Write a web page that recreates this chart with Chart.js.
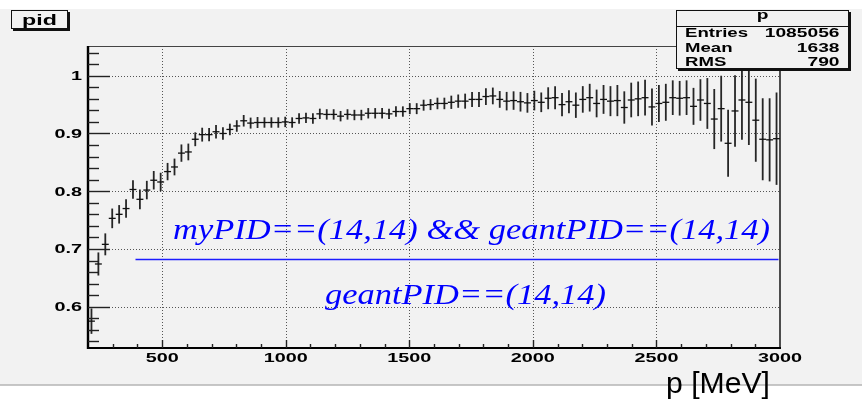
<!doctype html>
<html lang="en">
<head>
<meta charset="UTF-8">
<title>pid vs p</title>
<script src="https://cdn.jsdelivr.net/npm/chart.js"></script>
<style>
html,body{margin:0;padding:0;background:#fff;}
#wrap{width:862px;height:401px;}
canvas{display:block;}
</style>
</head>
<body>
<div id="wrap"><canvas id="chart" width="862" height="401"></canvas></div>

<script>
/* ---------- histogram "p" : 100 bins from 200 to 3000 MeV ---------- */
const nBins = 100, pMin = 200, pMax = 3000;

// bin contents (pid efficiency) and their errors, bin 1 .. bin 100
const pidValues = [
  0.575,0.674,0.708,0.753,0.760,0.770,0.803,0.786,0.802,0.819,
  0.816,0.834,0.842,0.866,0.868,0.890,0.898,0.898,0.903,0.900,
  0.907,0.913,0.922,0.918,0.919,0.919,0.919,0.919,0.920,0.919,
  0.926,0.927,0.926,0.934,0.933,0.933,0.930,0.933,0.932,0.932,
  0.935,0.935,0.935,0.934,0.938,0.938,0.943,0.943,0.949,0.950,
  0.952,0.952,0.954,0.956,0.956,0.959,0.959,0.964,0.965,0.959,
  0.956,0.957,0.955,0.953,0.957,0.954,0.961,0.962,0.950,0.955,
  0.949,0.959,0.962,0.952,0.959,0.956,0.957,0.945,0.958,0.960,
  0.962,0.946,0.952,0.954,0.962,0.961,0.962,0.947,0.958,0.952,
  0.925,0.943,0.883,0.939,0.958,0.954,0.923,0.890,0.889,0.891
];
const pidErrors = [
  0.022,0.020,0.019,0.017,0.016,0.016,0.016,0.017,0.016,0.016,
  0.016,0.015,0.0145,0.015,0.0145,0.012,0.012,0.0115,0.0115,0.011,
  0.010,0.010,0.010,0.0095,0.0095,0.009,0.009,0.009,0.009,0.009,
  0.009,0.009,0.009,0.009,0.009,0.009,0.009,0.009,0.009,0.009,
  0.009,0.009,0.009,0.009,0.009,0.009,0.0095,0.0095,0.0095,0.0095,
  0.010,0.010,0.0115,0.0115,0.013,0.013,0.013,0.0145,0.0145,0.0145,
  0.016,0.016,0.017,0.017,0.017,0.017,0.019,0.020,0.020,0.020,
  0.022,0.023,0.024,0.024,0.025,0.026,0.027,0.028,0.030,0.030,
  0.031,0.032,0.032,0.032,0.030,0.030,0.030,0.032,0.036,0.044,
  0.052,0.057,0.058,0.062,0.069,0.074,0.072,0.071,0.072,0.080
];

const xTicks      = [500,1000,1500,2000,2500,3000];
const xTickLabels = ['500','1000','1500','2000','2500','3000'];
const yTicks      = [0.6,0.7,0.8,0.9,1];
const yTickLabels = ['0.6','0.7','0.8','0.9','1'];
const yRange      = [0.5285,1.0515];

const histTitle  = 'pid';
const statsTitle = 'p';
const statsNames = ['Entries','Mean','RMS'];
const statsVals  = ['1085056','1638','790'];
const cutLabel   = 'myPID==(14,14) && geantPID==(14,14)';
const baseLabel  = 'geantPID==(14,14)';
const xTitle     = 'p [MeV]';

const binW = (pMax - pMin) / nBins;
const centers = pidValues.map((_, i) => pMin + (i + 0.5) * binW);

/* ---------- drawing helpers ---------- */
const BOLD = 'bold 12px "Liberation Sans", Arial, sans-serif';
const SX = 1.65; // ROOT canvas text is drawn wide

function wideText(c, txt, x, y, align, sx){
  c.save(); c.translate(x, y); c.scale(sx, 1);
  c.textAlign = align; c.textBaseline = 'alphabetic';
  c.fillText(txt, 0, 0); c.restore();
}
function fitText(c, txt, left, y, width){
  const sx = width / c.measureText(txt).width;
  wideText(c, txt, left, y, 'left', sx);
}
function line(c, x1, y1, x2, y2){
  c.beginPath(); c.moveTo(x1, y1); c.lineTo(x2, y2); c.stroke();
}
function shadowBox(c, x, y, w, h, off){
  c.fillStyle = '#111'; c.fillRect(x + off, y + off, w, h);
  c.fillStyle = '#f2f2f2'; c.fillRect(x, y, w, h);
  c.strokeStyle = '#111'; c.lineWidth = 1;
  c.strokeRect(x + .5, y + .5, w - 1, h - 1);
}

/* ---------- ROOT-like pad: frame, grid, ticks, boxes ---------- */
const rootPad = {
  id: 'rootPad',
  beforeDraw(chart){
    const c = chart.ctx, a = chart.chartArea, xs = chart.scales.x, ys = chart.scales.y;
    c.save();
    c.fillStyle = '#fff'; c.fillRect(0, 0, chart.width, chart.height);
    c.fillStyle = '#f2f2f2'; c.fillRect(0, 9, chart.width, 376);
    c.strokeStyle = '#b4b4b4'; c.lineWidth = 1.5; line(c, 0, 385, chart.width, 385);

    // dotted grid at the major ticks
    c.strokeStyle = '#555'; c.lineWidth = 1; c.setLineDash([1, 2]);
    xTicks.forEach(v => { const x = Math.round(xs.getPixelForValue(v)) + .5; if (x < a.right - 2) line(c, x, a.top, x, a.bottom); });
    yTicks.forEach(v => { const y = Math.round(ys.getPixelForValue(v)) + .5; line(c, a.left, y, a.right, y); });
    c.restore();
  },
  afterDatasetsDraw(chart){
    const c = chart.ctx, a = chart.chartArea, xs = chart.scales.x, ys = chart.scales.y;
    c.save();
    c.beginPath(); c.rect(a.left, a.top, a.right - a.left, a.bottom - a.top); c.clip();
    pidValues.forEach((v, i) => {
      const x = xs.getPixelForValue(centers[i]);
      const x1 = xs.getPixelForValue(centers[i] - binW / 2), x2 = xs.getPixelForValue(centers[i] + binW / 2);
      const y = ys.getPixelForValue(v);
      c.strokeStyle = '#262626'; c.lineWidth = 1.8;
      line(c, x, ys.getPixelForValue(v - pidErrors[i]), x, ys.getPixelForValue(v + pidErrors[i]));
      c.strokeStyle = '#111'; c.lineWidth = 1.3;
      line(c, x1, y, x2, y);
    });
    c.restore();
  },
  afterDraw(chart){
    const c = chart.ctx, a = chart.chartArea, xs = chart.scales.x, ys = chart.scales.y;
    c.save();

    // frame
    c.strokeStyle = '#444'; c.lineWidth = 1;
    line(c, a.left, a.top + .5, a.right, a.top + .5);
    c.strokeStyle = '#222'; c.lineWidth = 1.6;
    line(c, a.right, a.top, a.right, a.bottom);
    c.strokeStyle = '#000'; c.lineWidth = 2.4;
    line(c, a.left, a.top, a.left, a.bottom + 1);
    c.lineWidth = 2;
    line(c, a.left, a.bottom, a.right + 1, a.bottom);

    // ticks: y every 0.02, x every 100
    c.strokeStyle = '#222'; c.lineWidth = 1.4;
    for (let k = 27; k <= 52; k++){
      const v = k / 50, y = Math.round(ys.getPixelForValue(v)) + .5;
      if (y < a.top || y > a.bottom) continue;
      line(c, a.left, y, a.left + (k % 5 === 0 ? 22 : 11), y);
    }
    for (let v = 300; v < pMax; v += 100){
      const x = Math.round(xs.getPixelForValue(v)) + .5;
      line(c, x, a.bottom, x, a.bottom - (v % 500 === 0 ? 8 : 4));
    }

    // tick labels
    c.fillStyle = '#000'; c.font = BOLD;
    xTicks.forEach((v, i) => wideText(c, xTickLabels[i], xs.getPixelForValue(v), 362, 'center', SX));
    yTicks.forEach((v, i) => wideText(c, yTickLabels[i], a.left - 6, ys.getPixelForValue(v) + 4.3, 'right', SX));

    // axis title
    c.font = '29px "Liberation Sans Narrow", "Liberation Sans", Arial, sans-serif';
    fitText(c, xTitle, 666, 393, 104);

    // cut labels and separator
    c.fillStyle = '#0000ff';
    c.font = 'italic 30px "Liberation Serif", "Times New Roman", serif';
    fitText(c, cutLabel, 173, 239, 597);
    fitText(c, baseLabel, 325, 303.5, 281);
    c.strokeStyle = '#1c1cff'; c.lineWidth = 1.4;
    line(c, 135.5, 259.5, 778.5, 259.5);

    // title box
    shadowBox(c, 11, 10, 57, 19, 2);
    c.fillStyle = '#000'; c.font = 'bold 14.5px "Liberation Sans", Arial, sans-serif';
    wideText(c, histTitle, 39.5, 25, 'center', 1.6);

    // statistics box
    shadowBox(c, 676, 10, 173, 59, 2);
    c.strokeStyle = '#111'; c.lineWidth = 1;
    line(c, 676, 26.5, 849, 26.5);
    c.fillStyle = '#000'; c.font = BOLD;
    wideText(c, statsTitle, 762.5, 18.5, 'center', 1.6);
    statsNames.forEach((n, i) => {
      const y = 37 + i * 14.5;
      wideText(c, n, 685, y, 'left', 1.55);
      wideText(c, statsVals[i], 839.5, y, 'right', 1.6);
    });
    c.restore();
  }
};

new Chart(document.getElementById('chart'), {
  type: 'scatter',
  data: {
    datasets: [{
      label: histTitle,
      data: centers.map((x, i) => ({ x, y: pidValues[i] })),
      pointRadius: 0,
      showLine: false
    }]
  },
  options: {
    responsive: false,
    animation: false,
    events: [],
    layout: { padding: { left: 88, right: 82, top: 46, bottom: 53 } },
    plugins: { legend: { display: false }, tooltip: { enabled: false } },
    scales: {
      x: { type: 'linear', min: pMin, max: pMax, display: false },
      y: { type: 'linear', min: yRange[0], max: yRange[1], display: false }
    }
  },
  plugins: [rootPad]
});
</script>
</body>
</html>
